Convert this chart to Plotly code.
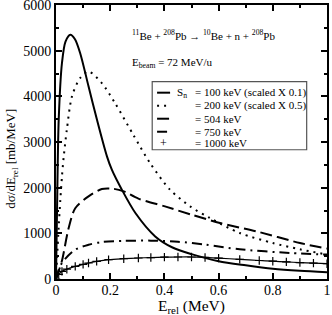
import plotly.graph_objects as go

# ---- data ----
x_s100 = [0, 0.005, 0.01, 0.022, 0.035, 0.053, 0.07, 0.089, 0.12, 0.151, 0.188, 0.206, 0.243, 0.293, 0.366, 0.43, 0.5, 0.6, 0.7, 0.8, 0.9, 1.0]
y_s100 = [0, 2000, 3490, 4730, 5200, 5350, 5250, 4950, 4220, 3490, 2685, 2393, 1955, 1445, 933, 690, 545, 390, 300, 225, 180, 150]

x_s200 = [0, 0.01, 0.016, 0.022, 0.028, 0.04, 0.059, 0.089, 0.12, 0.169, 0.218, 0.286, 0.347, 0.421, 0.495, 0.568, 0.678, 0.8, 0.9, 1.0]
y_s200 = [0, 1150, 1736, 2245, 2650, 3270, 4000, 4400, 4545, 4290, 3850, 3150, 2540, 1955, 1590, 1335, 1007, 788, 650, 535]

x_s504 = [0, 0.022, 0.046, 0.071, 0.12, 0.169, 0.212, 0.25, 0.304, 0.402, 0.5, 0.605, 0.74, 0.9, 1.0]
y_s504 = [0, 400, 1100, 1550, 1810, 1970, 1975, 1920, 1760, 1590, 1408, 1226, 1042, 788, 665]

x_s750 = [0, 0.022, 0.071, 0.12, 0.169, 0.25, 0.35, 0.45, 0.55, 0.678, 0.863, 1.0]
y_s750 = [0, 350, 642, 750, 810, 835, 840, 815, 755, 650, 570, 535]

x_s1000 = [0, 0.01, 0.022, 0.04, 0.071, 0.1, 0.12, 0.15, 0.194, 0.25, 0.304, 0.35, 0.4, 0.45, 0.5,
           0.55, 0.6, 0.678, 0.75, 0.8, 0.85, 0.9, 0.95, 1.0]
y_s1000 = [0, 100, 166, 215, 276, 320, 350, 385, 423, 445, 460, 470, 478, 482, 482,
           472, 457, 430, 405, 390, 375, 360, 348, 335]

legend_labels = ["= 100 keV (scaled X 0.1)", "= 200 keV (scaled X 0.5)",
                 "= 504 keV", "= 750 keV", "= 1000 keV"]

x_ticks = [0, 0.2, 0.4, 0.6, 0.8, 1]
x_ticktext = ["0", "0.2", "0.4", "0.6", "0.8", "1"]
y_ticks = [0, 1000, 2000, 3000, 4000, 5000, 6000]

FONT = "Liberation Serif, Times New Roman, serif"
BLACK = "black"

dashes = ["solid", "2px,5px", "12px,5px", "10px,5px,2px,5px", "solid"]
widths = [2, 2, 2, 2, 1.2]

fig = go.Figure()
series = [(x_s100, y_s100), (x_s200, y_s200), (x_s504, y_s504), (x_s750, y_s750)]
for i, (xs, ys) in enumerate(series):
    fig.add_trace(go.Scatter(x=xs, y=ys, mode="lines",
                             line=dict(color=BLACK, width=widths[i], dash=dashes[i], shape="spline", smoothing=0.8),
                             showlegend=False, hoverinfo="skip"))
fig.add_trace(go.Scatter(x=x_s1000, y=y_s1000, mode="lines+markers",
                         line=dict(color=BLACK, width=widths[4], shape="spline", smoothing=0.8),
                         marker=dict(symbol="cross-thin", size=6, line=dict(color=BLACK, width=1.2)),
                         showlegend=False, hoverinfo="skip"))

# ---- hand-built legend box (data coordinates) ----
box_x0, box_x1, box_y0, box_y1 = 0.355, 0.925, 2830, 4320
fig.add_shape(type="rect", xref="x", yref="y", x0=box_x0, x1=box_x1, y0=box_y0, y1=box_y1,
              line=dict(color="#555555", width=1.2), fillcolor="white", layer="above")
row_y = [4080, 3795, 3510, 3225, 2973]
smp_x0, smp_x1 = 0.373, 0.421
for i, ry in enumerate(row_y):
    if i < 4:
        fig.add_shape(type="line", xref="x", yref="y", x0=smp_x0, x1=smp_x1, y0=ry, y1=ry,
                      line=dict(color=BLACK, width=2, dash=dashes[i]), layer="above")
    else:
        fig.add_annotation(x=(smp_x0 + smp_x1) / 2, y=ry, xref="x", yref="y", text="+",
                           showarrow=False, font=dict(family=FONT, size=12, color=BLACK))
    fig.add_annotation(x=0.505, y=ry, xref="x", yref="y", text=legend_labels[i],
                       xanchor="left", showarrow=False, font=dict(family=FONT, size=11, color=BLACK))
fig.add_annotation(x=0.44, y=row_y[0], xref="x", yref="y", text="S<sub>n</sub>",
                   xanchor="left", showarrow=False, font=dict(family=FONT, size=11, color=BLACK))

fig.add_annotation(x=0.274, y=5349, xref="x", yref="y",
                   text="<sup>11</sup>Be + <sup>208</sup>Pb \u2192 <sup>10</sup>Be + n + <sup>208</sup>Pb",
                   xanchor="left", showarrow=False, font=dict(family=FONT, size=11, color=BLACK))
fig.add_annotation(x=0.274, y=4730, xref="x", yref="y",
                   text="E<sub>beam</sub> = 72 MeV/u",
                   xanchor="left", showarrow=False, font=dict(family=FONT, size=11, color=BLACK))

# axis titles as annotations for exact placement
fig.add_annotation(x=0.5, y=-0.102, xref="paper", yref="paper", text="E<sub>rel</sub> (MeV)",
                   xanchor="center", yanchor="middle", showarrow=False,
                   font=dict(family=FONT, size=15.5, color=BLACK))
fig.add_annotation(x=-0.165, y=0.44, xref="paper", yref="paper", text="d\u03c3/dE<sub>rel</sub> [mb/MeV]",
                   textangle=-90, xanchor="center", yanchor="middle", showarrow=False,
                   font=dict(family=FONT, size=13, color=BLACK))

axis_common = dict(showgrid=False, zeroline=False, showline=True, linecolor=BLACK, linewidth=2,
                   mirror="ticks", ticks="inside", ticklen=6, tickwidth=1.5, tickcolor=BLACK,
                   ticklabeloverflow="allow",
                   tickfont=dict(family=FONT, size=14, color=BLACK))
fig.update_xaxes(range=[0, 1], tickvals=x_ticks, ticktext=x_ticktext, ticklabelstandoff=-3,
                 minor=dict(ticks="inside", ticklen=3, dtick=0.1, tickcolor=BLACK, tickwidth=1.5),
                 **axis_common)
fig.update_yaxes(range=[0, 6000], tickvals=y_ticks,
                 minor=dict(ticks="inside", ticklen=3, dtick=500, tickcolor=BLACK, tickwidth=1.5),
                 **axis_common)

fig.update_layout(width=332, height=315, margin=dict(l=56, r=5, t=5, b=36, autoexpand=False),
                  paper_bgcolor="white", plot_bgcolor="white", showlegend=False)

fig.write_html("out.html", config={"displayModeBar": False},
               post_script="document.body.style.margin='0';document.body.style.overflow='hidden';")
